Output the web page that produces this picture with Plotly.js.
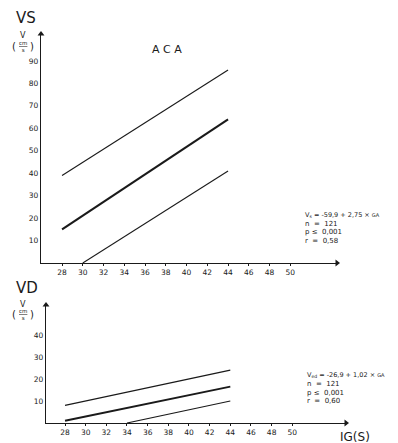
<!DOCTYPE html>
<html>
<head>
<meta charset="utf-8">
<script src="https://cdn.plot.ly/plotly-3.0.1.min.js"></script>
<style>html,body{margin:0;padding:0;background:#fff;}#chart{width:398px;height:443px;}</style>
</head>
<body>
<div id="chart"></div>
<script>
// ---- data ----
const xTicks = [28, 30, 32, 34, 36, 38, 40, 42, 44, 46, 48, 50];
const vsTicks = [10, 20, 30, 40, 50, 60, 70, 80, 90];
const vdTicks = [10, 20, 30, 40];

// VS panel (ACA)
const vsX = [28, 44];
const vsUpper = [39, 86];
const vsMean = [15, 64];
const vsLowerX = [30, 44];
const vsLower = [0, 41];

// VD panel
const vdX = [28, 44];
const vdUpper = [8, 24];
const vdMean = [1, 16.5];
const vdLowerX = [34, 44];
const vdLower = [0, 10];

// axis extents (for the arrow tips)
const vsXRange = [25.97, 54.5];
const vsYRange = [0, 102];
const vdXRange = [26.16, 55.2];
const vdYRange = [0, 53.6];

const W = 398, H = 443;
const px = v => v / W;
const py = v => 1 - v / H;
const ink = '#1a1a1a';
const F = 'DejaVu Sans, Arial, sans-serif';

function line(x, y, w, xa, ya) {
  return {x: x, y: y, type: 'scatter', mode: 'lines', xaxis: xa, yaxis: ya,
          line: {color: ink, width: w}, hoverinfo: 'skip', showlegend: false};
}
function tip(x, y, sym, xa, ya) {
  return {x: [x], y: [y], type: 'scatter', mode: 'markers', xaxis: xa, yaxis: ya, cliponaxis: false,
          marker: {symbol: sym, size: 6, color: ink}, hoverinfo: 'skip', showlegend: false};
}

const data = [
  line(vsX, vsUpper, 1.1, 'x', 'y'),
  line(vsX, vsMean, 2.1, 'x', 'y'),
  line(vsLowerX, vsLower, 1.1, 'x', 'y'),
  line(vdX, vdUpper, 1.1, 'x2', 'y2'),
  line(vdX, vdMean, 1.9, 'x2', 'y2'),
  line(vdLowerX, vdLower, 1.1, 'x2', 'y2'),
  tip(vsXRange[1], 0, 'triangle-right', 'x', 'y'),
  tip(vsXRange[0], vsYRange[1], 'triangle-up', 'x', 'y'),
  tip(vdXRange[1], 0, 'triangle-right', 'x2', 'y2'),
  tip(vdXRange[0], vdYRange[1], 'triangle-up', 'x2', 'y2')
];

const xBase = {
  tickvals: xTicks, ticks: 'outside', ticklen: 2, tickwidth: 1, tickcolor: ink,
  showline: true, linecolor: ink, linewidth: 1.2, showgrid: false, zeroline: false,
  tickfont: {family: F, size: 7.5, color: ink}, fixedrange: true
};
const yBase = {
  ticks: '', showline: true, linecolor: ink, linewidth: 1.2, showgrid: false, zeroline: false,
  tickfont: {family: F, size: 7.5, color: ink}, fixedrange: true
};

function txt(x, y, text, size, anchor) {
  return {xref: 'paper', yref: 'paper', x: px(x), y: py(y), text: text, showarrow: false,
          xanchor: anchor || 'left', yanchor: 'middle', font: {family: F, size: size, color: ink}};
}

const annotations = [
  txt(26, 18, 'VS', 15, 'center'),
  txt(23, 35, 'V', 8, 'center'),
  txt(14, 47, '(', 10, 'center'),
  txt(23, 47, '<u>cm</u><br>s', 5.5, 'center'),
  txt(32, 47, ')', 10, 'center'),
  txt(150, 49, 'A C A', 11, 'left'),
  txt(303, 215, 'V<sub>s</sub> = -59,9 + 2,75 × <span style="font-size:5px">GA</span>', 6.5),
  txt(303, 223.5, 'n  =  121', 7),
  txt(303, 232, 'p ≤  0,001', 7),
  txt(303, 241, 'r  =  0,58', 7),
  txt(27, 288, 'VD', 15, 'center'),
  txt(23, 304, 'V', 8, 'center'),
  txt(14, 314, '(', 10, 'center'),
  txt(23, 314, '<u>cm</u><br>s', 5.5, 'center'),
  txt(32, 314, ')', 10, 'center'),
  txt(305, 375, 'V<sub>ed</sub> = -26,9 + 1,02 × <span style="font-size:5px">GA</span>', 6.5),
  txt(305, 384, 'n  =  121', 7),
  txt(305, 392.5, 'p ≤  0,001', 7),
  txt(305, 401, 'r  =  0,60', 7),
  txt(338, 437, 'IG(S)', 12)
];

const layout = {
  width: W, height: H,
  margin: {l: 0, r: 0, t: 0, b: 0},
  paper_bgcolor: '#fff', plot_bgcolor: '#fff',
  showlegend: false,
  xaxis: Object.assign({}, xBase, {domain: [px(41), px(337)], range: vsXRange, anchor: 'y'}),
  yaxis: Object.assign({}, yBase, {domain: [py(263), py(34)], range: vsYRange, tickvals: vsTicks, anchor: 'x'}),
  xaxis2: Object.assign({}, xBase, {domain: [px(46), px(346)], range: vdXRange, anchor: 'y2'}),
  yaxis2: Object.assign({}, yBase, {domain: [py(423), py(305)], range: vdYRange, tickvals: vdTicks, anchor: 'x2'}),
  annotations: annotations
};

Plotly.newPlot('chart', data, layout, {displayModeBar: false, staticPlot: true});
</script>
</body>
</html>
